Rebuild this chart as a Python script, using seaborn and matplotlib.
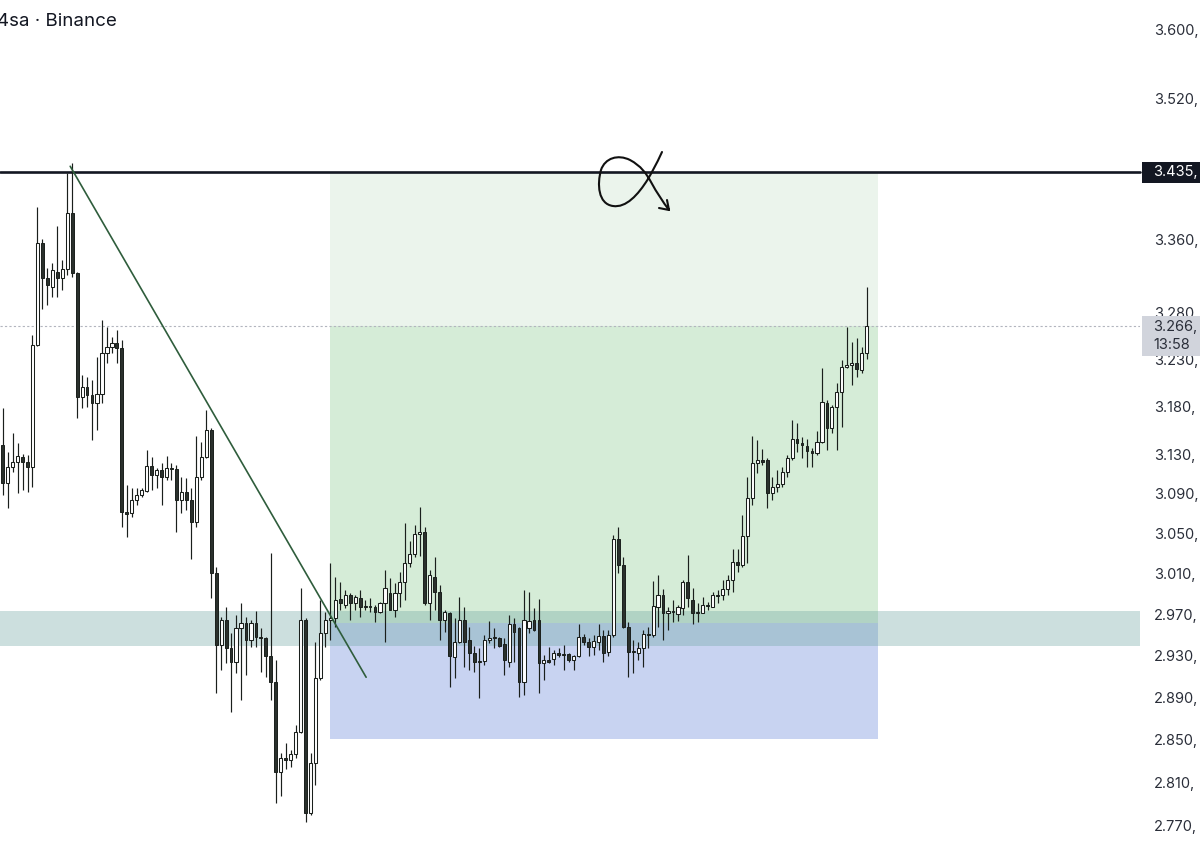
import numpy as np
import pandas as pd
import matplotlib
matplotlib.use("Agg")
import matplotlib.pyplot as plt
import seaborn as sns
from matplotlib.path import Path
from matplotlib.patches import PathPatch, Rectangle
from matplotlib.ticker import FixedLocator, NullLocator, FixedFormatter
from matplotlib.transforms import IdentityTransform

# ---------------- data ----------------
opens = [3.140, 3.101, 3.118, 3.123, 3.128, 3.123, 3.118, 3.245, 3.356, 3.318,
         3.308, 3.324, 3.318, 3.328, 3.390, 3.323, 3.190, 3.201, 3.192, 3.184,
         3.193, 3.237, 3.243, 3.247, 3.242, 3.072, 3.071, 3.084, 3.089, 3.093,
         3.119, 3.109, 3.114, 3.107, 3.117, 3.115, 3.084, 3.092, 3.084, 3.062,
         3.107, 3.128, 3.156, 3.011, 2.940, 2.964, 2.937, 2.924, 2.957, 2.961,
         2.945, 2.961, 2.948, 2.947, 2.929, 2.904, 2.820, 2.833, 2.831, 2.836,
         2.857, 2.964, 2.782, 2.828, 2.908, 2.952, 2.964, 2.966, 2.985, 2.979,
         2.989, 2.981, 2.986, 2.977, 2.978, 2.977, 2.972, 2.981, 2.991, 2.974,
         2.991, 3.002, 3.021, 3.029, 3.049, 3.052, 2.981, 3.007, 2.992, 2.964,
         2.971, 2.928, 2.943, 2.964, 2.945, 2.932, 2.924, 2.925, 2.945, 2.947,
         2.947, 2.941, 2.924, 2.960, 2.957, 2.904, 2.957, 2.964, 2.964, 2.923,
         2.926, 2.927, 2.932, 2.930, 2.931, 2.926, 2.929, 2.948, 2.943, 2.938,
         2.943, 2.949, 2.933, 2.950, 3.044, 3.019, 2.958, 2.933, 2.932, 2.937,
         2.951, 2.950, 2.977, 2.989, 2.971, 2.973, 2.970, 2.976, 3.002, 2.984,
         2.971, 2.971, 2.979, 2.977, 2.989, 2.989, 2.995, 3.004, 3.022, 3.019,
         3.047, 3.086, 3.122, 3.125, 3.125, 3.091, 3.097, 3.100, 3.112, 3.127,
         3.146, 3.142, 3.139, 3.134, 3.132, 3.143, 3.184, 3.158, 3.180, 3.195,
         3.222, 3.224, 3.226, 3.219, 3.237]
highs = [3.179, 3.133, 3.153, 3.142, 3.131, 3.130, 3.256, 3.396, 3.361, 3.329,
         3.334, 3.375, 3.337, 3.434, 3.446, 3.324, 3.213, 3.211, 3.208, 3.233,
         3.272, 3.265, 3.254, 3.261, 3.251, 3.099, 3.096, 3.096, 3.096, 3.135,
         3.128, 3.117, 3.122, 3.129, 3.122, 3.120, 3.107, 3.106, 3.096, 3.150,
         3.143, 3.177, 3.158, 3.017, 2.967, 2.977, 2.952, 2.969, 2.981, 2.967,
         2.964, 2.973, 2.957, 2.948, 3.030, 2.926, 2.837, 2.847, 2.840, 2.864,
         2.996, 2.966, 2.837, 2.943, 2.984, 2.972, 3.021, 3.007, 3.002, 2.994,
         2.991, 2.989, 2.994, 2.984, 2.986, 2.979, 2.982, 3.014, 3.006, 3.001,
         3.012, 3.061, 3.042, 3.059, 3.077, 3.057, 3.014, 3.026, 2.999, 2.974,
         2.972, 2.966, 2.987, 2.977, 2.958, 2.939, 2.937, 2.950, 2.963, 2.957,
         2.948, 2.947, 2.969, 2.966, 2.958, 2.994, 2.992, 2.976, 2.985, 2.930,
         2.938, 2.935, 2.937, 2.940, 2.932, 2.930, 2.960, 2.951, 2.947, 2.950,
         2.960, 2.955, 2.955, 3.048, 3.057, 3.026, 2.962, 2.945, 2.943, 2.955,
         2.958, 3.003, 3.009, 2.995, 2.977, 2.984, 2.979, 3.004, 3.028, 2.996,
         2.981, 2.987, 2.982, 2.992, 2.994, 3.004, 3.009, 3.034, 3.034, 3.069,
         3.107, 3.149, 3.145, 3.136, 3.127, 3.107, 3.114, 3.118, 3.130, 3.166,
         3.163, 3.148, 3.146, 3.137, 3.155, 3.221, 3.187, 3.182, 3.205, 3.229,
         3.265, 3.248, 3.253, 3.243, 3.308]
lows = [3.089, 3.076, 3.112, 3.091, 3.094, 3.092, 3.097, 3.244, 3.284, 3.288,
        3.297, 3.297, 3.305, 3.321, 3.319, 3.168, 3.179, 3.180, 3.145, 3.156,
        3.184, 3.226, 3.237, 3.226, 3.057, 3.046, 3.067, 3.079, 3.087, 3.092,
        3.094, 3.096, 3.079, 3.104, 3.104, 3.051, 3.071, 3.074, 3.024, 3.057,
        3.104, 3.127, 2.986, 2.894, 2.916, 2.923, 2.876, 2.913, 2.887, 2.911,
        2.938, 2.938, 2.914, 2.909, 2.887, 2.791, 2.797, 2.822, 2.824, 2.833,
        2.856, 2.774, 2.780, 2.808, 2.906, 2.938, 2.945, 2.958, 2.974, 2.976,
        2.964, 2.974, 2.967, 2.974, 2.972, 2.962, 2.971, 2.943, 2.974, 2.967,
        2.977, 2.984, 3.017, 3.026, 3.027, 2.979, 2.964, 2.974, 2.945, 2.953,
        2.900, 2.908, 2.942, 2.919, 2.916, 2.914, 2.889, 2.921, 2.942, 2.937,
        2.938, 2.911, 2.919, 2.924, 2.890, 2.892, 2.952, 2.954, 2.894, 2.906,
        2.923, 2.921, 2.928, 2.916, 2.924, 2.916, 2.928, 2.940, 2.929, 2.930,
        2.935, 2.924, 2.929, 2.948, 3.011, 2.957, 2.909, 2.913, 2.926, 2.919,
        2.937, 2.948, 2.958, 2.945, 2.955, 2.962, 2.963, 2.969, 2.977, 2.960,
        2.962, 2.971, 2.974, 2.977, 2.981, 2.984, 2.989, 2.992, 3.012, 3.017,
        3.021, 3.079, 3.111, 3.120, 3.076, 3.084, 3.092, 3.097, 3.107, 3.125,
        3.133, 3.127, 3.118, 3.118, 3.130, 3.142, 3.135, 3.153, 3.135, 3.159,
        3.221, 3.203, 3.211, 3.215, 3.230]
closes = [3.101, 3.118, 3.123, 3.129, 3.123, 3.118, 3.245, 3.356, 3.318, 3.310,
          3.326, 3.318, 3.328, 3.390, 3.323, 3.190, 3.201, 3.192, 3.184, 3.193,
          3.237, 3.243, 3.247, 3.242, 3.072, 3.070, 3.084, 3.089, 3.094, 3.119,
          3.109, 3.114, 3.107, 3.117, 3.115, 3.084, 3.092, 3.084, 3.062, 3.107,
          3.128, 3.156, 3.011, 2.940, 2.964, 2.937, 2.924, 2.957, 2.961, 2.945,
          2.961, 2.948, 2.947, 2.929, 2.904, 2.820, 2.833, 2.831, 2.836, 2.857,
          2.964, 2.782, 2.828, 2.908, 2.952, 2.964, 2.966, 2.984, 2.981, 2.989,
          2.981, 2.987, 2.977, 2.978, 2.977, 2.972, 2.981, 2.996, 2.974, 2.991,
          3.002, 3.021, 3.029, 3.049, 3.052, 2.981, 3.009, 2.992, 2.964, 2.972,
          2.929, 2.943, 2.964, 2.943, 2.932, 2.924, 2.925, 2.945, 2.947, 2.947,
          2.939, 2.926, 2.960, 2.953, 2.904, 2.964, 2.963, 2.955, 2.923, 2.926,
          2.924, 2.932, 2.930, 2.931, 2.926, 2.929, 2.948, 2.943, 2.938, 2.944,
          2.949, 2.932, 2.950, 3.044, 3.019, 2.958, 2.933, 2.934, 2.937, 2.951,
          2.950, 2.978, 2.989, 2.971, 2.973, 2.972, 2.977, 3.002, 2.986, 2.971,
          2.972, 2.979, 2.978, 2.989, 2.988, 2.995, 3.004, 3.022, 3.019, 3.047,
          3.086, 3.122, 3.125, 3.123, 3.091, 3.097, 3.100, 3.112, 3.127, 3.146,
          3.142, 3.140, 3.134, 3.132, 3.143, 3.185, 3.158, 3.180, 3.195, 3.222,
          3.224, 3.226, 3.220, 3.237, 3.266]

tick_values = [3.600, 3.520, 3.360, 3.280, 3.230, 3.180, 3.130, 3.090, 3.050,
               3.010, 2.970, 2.930, 2.890, 2.850, 2.810, 2.770]
tick_labels = ["3.600,", "3.520,", "3.360,", "3.280,", "3.230,", "3.180,", "3.130,",
               "3.090,", "3.050,", "3.010,", "2.970,", "2.930,", "2.890,", "2.850,",
               "2.810,", "2.770,"]

resistance_level = 3.435
resistance_label = "3.435,"
last_price = 3.266
last_price_label = "3.266,"
countdown_label = "13:58"
zone_low, zone_high = 2.939, 2.973
pos_start, pos_end = 65.9, 176.3          # in bar units
entry_price, target_price, stop_price = 2.961, 3.435, 2.850
trend_bars = [13.6, 73.2]
trend_prices = [3.442, 2.909]
title_text = "4sa · Binance"

df = pd.DataFrame({"open": opens, "high": highs, "low": lows, "close": closes})
df["bar"] = np.arange(len(df))

# ---------------- figure ----------------
sns.set_style("white")
plt.rcParams["font.family"] = ["Inter", "DejaVu Sans"]

W, H = 1200, 842
fig = plt.figure(figsize=(W / 100, H / 100), dpi=100)
ax = fig.add_axes([0, 0, 1140 / W, 1])
ax.set_facecolor("white")

ax.set_yscale("log")
ax.set_ylim(2.7554, 3.6357)
ax.set_xlim(-0.54, 229.06)

# position tool boxes
ax.fill_between([pos_start, pos_end], entry_price, target_price,
                color=(0.922, 0.957, 0.925), lw=0, zorder=1)
ax.fill_between([pos_start, pos_end], entry_price, last_price,
                color=(0.835, 0.925, 0.843), lw=0, zorder=1.1)
ax.fill_between([pos_start, pos_end], stop_price, entry_price,
                color=(0.784, 0.827, 0.945), lw=0, zorder=1)

# horizontal support zone
ax.axhspan(zone_low, zone_high, color=(0.43, 0.65, 0.63), alpha=0.35, lw=0, zorder=2)

# horizontal level & last price line
ax.axhline(resistance_level, color="#131722", lw=1.9, zorder=3, clip_on=False)
ax.axhline(last_price, color="#b2b5be", lw=0.8, ls=(0, (2, 2)), zorder=3)

# candles
up = df["close"] >= df["open"]
ax.vlines(df["bar"], df["low"], df["high"], color="#1a1f1c", lw=0.85, zorder=4)
body_bottom = np.minimum(df["open"], df["close"])
body_h = np.maximum(np.abs(df["close"] - df["open"]), 0.0009)
ax.bar(df["bar"][up], body_h[up], bottom=body_bottom[up], width=0.64,
       color="white", edgecolor="#1a1f1c", linewidth=0.75, zorder=5)
ax.bar(df["bar"][~up], body_h[~up], bottom=body_bottom[~up], width=0.56,
       color="#2a302c", edgecolor="#1a1f1c", linewidth=0.7, zorder=5)

# trend line
sns.lineplot(x=trend_bars, y=trend_prices, ax=ax, color="#2f5d3c", lw=1.2,
             zorder=6, legend=False)

# hand-drawn alpha-like mark (axes fraction)
def af(px, py):
    return (px / 1140, 1 - py / H)

verts = [af(662, 152),
         af(656, 165), af(652, 172), af(648, 179),
         af(638, 195), af(626, 208), af(613, 206),
         af(598, 204), af(597, 184), af(601, 170),
         af(605, 158), af(618, 154), af(630, 160),
         af(641, 166), af(646, 173), af(651, 182),
         af(657, 193), af(663, 202), af(669, 210),
         af(659, 208),
         af(669, 210), af(667, 200)]
codes = ([Path.MOVETO] + [Path.CURVE4] * 18 + [Path.LINETO] +
         [Path.MOVETO, Path.LINETO])
ax.add_patch(PathPatch(Path(verts, codes), transform=ax.transAxes, fill=False,
                       edgecolor="#111111", lw=1.5, capstyle="round",
                       joinstyle="round", zorder=7))

# axis styling
for s in ax.spines.values():
    s.set_visible(False)
ax.set_xticks([])
ax.yaxis.tick_right()
ax.yaxis.set_major_locator(FixedLocator(tick_values))
ax.yaxis.set_major_formatter(FixedFormatter(tick_labels))
ax.yaxis.set_minor_locator(NullLocator())
ax.tick_params(axis="y", length=0, pad=10, labelsize=10.5, labelcolor="#2a2e39")
ax.set_xlabel("")
ax.set_ylabel("")

# price label boxes (pixel coordinates)
def ypix(price):
    return ax.transData.transform((0, price))[1]

yr = ypix(resistance_level)
fig.add_artist(Rectangle((1142, yr - 10.5), 70, 21, transform=IdentityTransform(),
                         facecolor="#131722", edgecolor="none", zorder=10))
fig.text(1153, yr, resistance_label, transform=IdentityTransform(), va="center",
         ha="left", color="white", fontsize=10.5, zorder=11)

yl = ypix(last_price)
fig.add_artist(Rectangle((1142, yl - 30), 70, 40, transform=IdentityTransform(),
                         facecolor="#d1d4dc", edgecolor="none", zorder=10))
fig.text(1153, yl - 1, last_price_label, transform=IdentityTransform(), va="center",
         ha="left", color="#2a2e39", fontsize=10.5, zorder=11)
fig.text(1153, yl - 19, countdown_label, transform=IdentityTransform(), va="center",
         ha="left", color="#2a2e39", fontsize=10.5, zorder=11)

# title (left part is cut by the image edge, as in the reference)
fig.text(-3 / W, 1 - 22 / H, title_text, fontsize=13.5, color="#131722",
         va="center", ha="left")

fig.savefig("out.png", dpi=100)
